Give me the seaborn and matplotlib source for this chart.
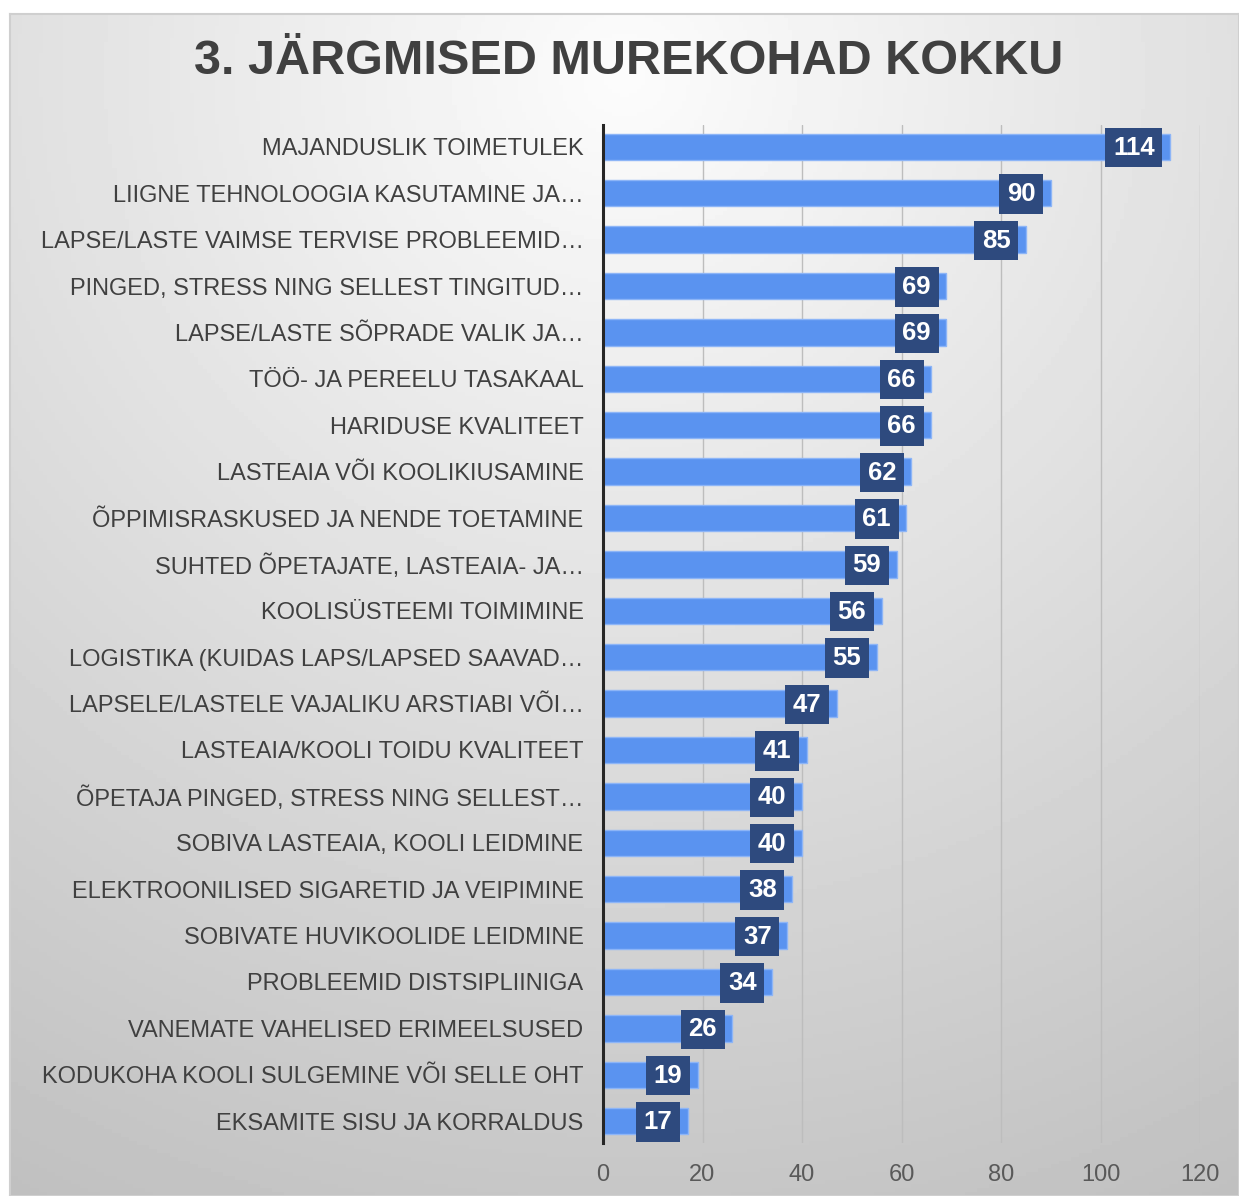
import numpy as np
import pandas as pd
import matplotlib
matplotlib.use('Agg')
import matplotlib.pyplot as plt
import seaborn as sns

# data
labels = [
    'MAJANDUSLIK TOIMETULEK',
    'LIIGNE TEHNOLOOGIA KASUTAMINE JA…',
    'LAPSE/LASTE VAIMSE TERVISE PROBLEEMID…',
    'PINGED, STRESS NING SELLEST TINGITUD…',
    'LAPSE/LASTE SÕPRADE VALIK JA…',
    'TÖÖ- JA PEREELU TASAKAAL',
    'HARIDUSE KVALITEET',
    'LASTEAIA VÕI KOOLIKIUSAMINE',
    'ÕPPIMISRASKUSED JA NENDE TOETAMINE',
    'SUHTED ÕPETAJATE, LASTEAIA- JA…',
    'KOOLISÜSTEEMI TOIMIMINE',
    'LOGISTIKA (KUIDAS LAPS/LAPSED SAAVAD…',
    'LAPSELE/LASTELE VAJALIKU ARSTIABI VÕI…',
    'LASTEAIA/KOOLI TOIDU KVALITEET',
    'ÕPETAJA PINGED, STRESS NING SELLEST…',
    'SOBIVA LASTEAIA, KOOLI LEIDMINE',
    'ELEKTROONILISED SIGARETID JA VEIPIMINE',
    'SOBIVATE HUVIKOOLIDE LEIDMINE',
    'PROBLEEMID DISTSIPLIINIGA',
    'VANEMATE VAHELISED ERIMEELSUSED',
    'KODUKOHA KOOLI SULGEMINE VÕI SELLE OHT',
    'EKSAMITE SISU JA KORRALDUS',
]
counts = [114, 90, 85, 69, 69, 66, 66, 62, 61, 59, 56, 55, 47, 41, 40, 40, 38, 37, 34, 26, 19, 17]
x_ticks = [0, 20, 40, 60, 80, 100, 120]

df = pd.DataFrame({'Murekoht': labels, 'Kokku': counts})

sns.set_style('white')
plt.rcParams['font.family'] = ['Liberation Sans', 'DejaVu Sans']

fig = plt.figure(figsize=(12.39, 11.96), dpi=100)

# gradient background of the chart area
bg = fig.add_axes([10/1239, 0, 1 - 10/1239, 1 - 14/1196], zorder=0)
yy, xx = np.mgrid[0:1:300j, 0:1:300j]
r = np.sqrt((xx - 0.5) ** 2 + (yy - 0.05) ** 2)
shade = 252 - 62 * np.clip(r / 1.1, 0, 1)
bg.imshow(shade, cmap='gray', vmin=0, vmax=255, aspect='auto', extent=[0, 1, 1, 0])
bg.set_xticks([])
bg.set_yticks([])
for s in bg.spines.values():
    s.set_color('#CFCFCF')
    s.set_linewidth(1.5)

ax = fig.add_axes([603/1239, 1 - 1143/1196, 597/1239, (1143 - 125)/1196], zorder=1)
ax.patch.set_alpha(0)

sns.barplot(data=df, x='Kokku', y='Murekoht', color='#5A93F0', width=0.57,
            edgecolor='#8DB5F7', linewidth=1, saturation=1, ax=ax, zorder=2)

for i, v in enumerate(counts):
    ax.text(v - 3.1, i + 0.02, str(v), ha='right', va='center', color='white',
            fontsize=18.5, fontweight='bold', zorder=4,
            bbox=dict(boxstyle='square,pad=0.3', fc='#2E4A7E', ec='none'))

ax.set_xlim(0, 120)
ax.set_ylim(len(counts) - 0.53, -0.47)
ax.set_xticks(x_ticks)
ax.xaxis.grid(True, color='#BDBDBD', linewidth=1)
ax.set_axisbelow(True)
ax.tick_params(axis='x', length=0, labelsize=17, labelcolor='#595959', pad=15)
ax.tick_params(axis='y', length=0, labelsize=17, labelcolor='#404040', pad=14)
ax.set_xlabel('')
ax.set_ylabel('')
for s in ['top', 'right', 'bottom']:
    ax.spines[s].set_visible(False)
ax.spines['left'].set_color('#262626')
ax.spines['left'].set_linewidth(2.2)
ax.spines['left'].set_zorder(5)

fig.text(629/1239, 1 - 62/1196, '3. JÄRGMISED MUREKOHAD KOKKU', ha='center', va='center',
         fontsize=35, fontweight='bold', color='#404040', zorder=3)

fig.savefig('out.png', dpi=100)
